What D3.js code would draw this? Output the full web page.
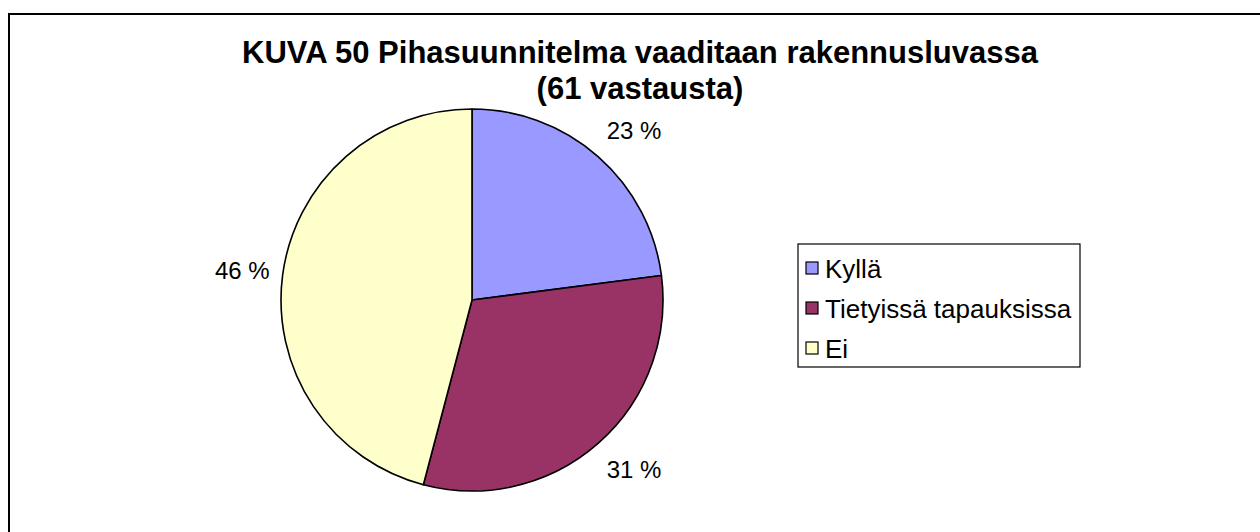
<!DOCTYPE html>
<html>
<head>
<meta charset="utf-8">
<script src="https://cdn.jsdelivr.net/npm/d3@7"></script>
<style>
  html, body { margin: 0; padding: 0; background: #fff; }
  svg { display: block; }
  text { font-family: "Liberation Sans", Arial, sans-serif; }
</style>
</head>
<body>
<svg id="chart" width="1260" height="532"></svg>
<script>
// Answers (n = 61)
const categories = ["Kyllä", "Tietyissä tapauksissa", "Ei"];
const counts = [14, 19, 28];
const percentLabels = ["23 %", "31 %", "46 %"];
const colors = ["#9999FF", "#993366", "#FFFFCC"];
const titleLines = ["KUVA 50 Pihasuunnitelma vaaditaan rakennusluvassa", "(61 vastausta)"];

const svg = d3.select("#chart");

// chart frame (open on the right and bottom edges of the canvas)
svg.append("rect")
  .attr("x", 9).attr("y", 14)
  .attr("width", 1270).attr("height", 540)
  .attr("fill", "#fff")
  .attr("stroke", "#000").attr("stroke-width", 2);

// title
svg.append("g").selectAll("text")
  .data(titleLines)
  .join("text")
  .attr("x", 640)
  .attr("y", (d, i) => 63 + i * 36)
  .attr("text-anchor", "middle")
  .attr("font-size", 31)
  .attr("font-weight", "bold")
  .text(d => d);

// pie
const cx = 472, cy = 300, r = 191;
const pie = d3.pie().sort(null).value(d => d);
const arcs = pie(counts);
const arc = d3.arc().innerRadius(0).outerRadius(r);

const g = svg.append("g").attr("transform", `translate(${cx},${cy})`);
g.selectAll("path")
  .data(arcs)
  .join("path")
  .attr("d", arc)
  .attr("fill", (d, i) => colors[i])
  .attr("stroke", "#000")
  .attr("stroke-width", 1.6)
  .attr("stroke-linejoin", "round");

// percentage labels just outside each slice, aligned away from the pie
const labelGap = 13, labelLift = 22;
const midAngle = d => (d.startAngle + d.endAngle) / 2;
g.selectAll("text.pct")
  .data(arcs)
  .join("text")
  .attr("class", "pct")
  .attr("x", d => Math.sin(midAngle(d)) * (r + labelGap))
  .attr("y", d => -Math.cos(midAngle(d)) * (r + labelGap + labelLift))
  .attr("text-anchor", d => Math.sin(midAngle(d)) >= 0 ? "start" : "end")
  .attr("dominant-baseline", "central")
  .attr("font-size", 24)
  .text((d, i) => percentLabels[i]);

// legend
const legend = svg.append("g");
legend.append("rect")
  .attr("x", 798).attr("y", 244)
  .attr("width", 282).attr("height", 123)
  .attr("fill", "#fff")
  .attr("stroke", "#000").attr("stroke-width", 1.2);

const rowY = d3.scalePoint().domain(categories).range([268, 348]);
const rows = legend.selectAll("g.row")
  .data(categories)
  .join("g")
  .attr("class", "row")
  .attr("transform", d => `translate(806,${rowY(d)})`);
rows.append("rect")
  .attr("x", 0).attr("y", -6)
  .attr("width", 12).attr("height", 12)
  .attr("fill", (d, i) => colors[i])
  .attr("stroke", "#000").attr("stroke-width", 1.2);
rows.append("text")
  .attr("x", 19)
  .attr("y", 1)
  .attr("dominant-baseline", "central")
  .attr("font-size", 26)
  .text(d => d);
</script>
</body>
</html>
